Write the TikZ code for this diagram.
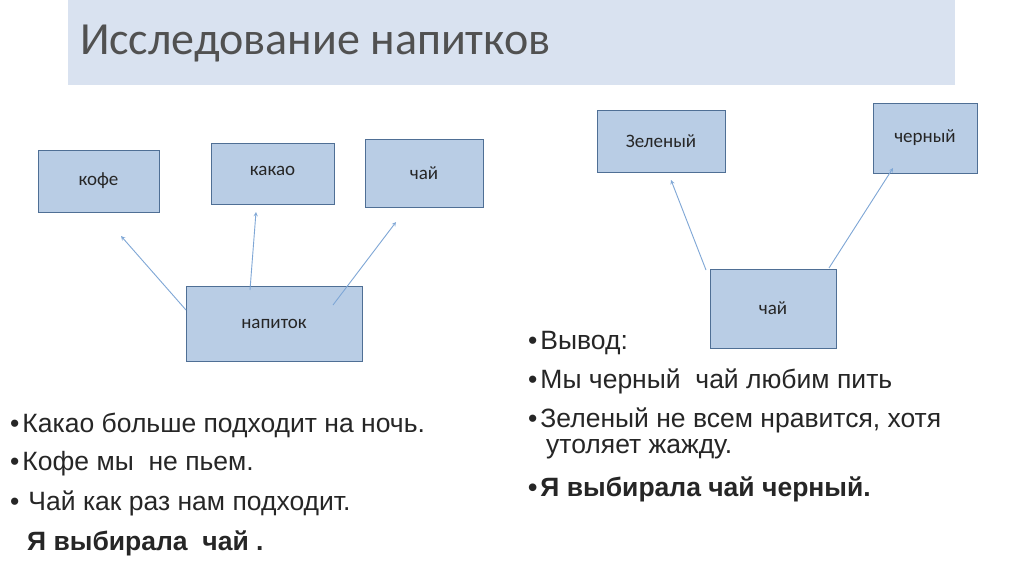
\documentclass[tikz,border=0pt]{standalone}
\usepackage{fontspec}
\setmainfont{Carlito}
\newfontfamily\bul{Liberation Sans}
\begin{document}
\begin{tikzpicture}[x=1pt,y=-1pt,
  box/.style={draw=boxline,fill=boxfill,line width=1pt,inner sep=0pt,font=\fontsize{19}{22}\selectfont,text=txt},
  arr/.style={draw=arrcol,line width=0.9pt,-stealth},
  btxt/.style={anchor=west,font=\bul\fontsize{26.5}{30}\selectfont,text=txt,inner sep=0pt}]
\definecolor{boxfill}{HTML}{B9CDE5}
\definecolor{boxline}{HTML}{4F6F95}
\definecolor{arrcol}{HTML}{7FA7D6}
\definecolor{banner}{HTML}{D9E2F0}
\definecolor{txt}{HTML}{262626}
\useasboundingbox (0,0) rectangle (1024,574);
\fill[white] (0,0) rectangle (1024,574);
\fill[banner] (68,0) rectangle (955,85);
\node[anchor=west,inner sep=0pt,text=txt!80,font=\fontsize{46}{50}\selectfont] (title) at (80,44) {Исследование напитков};
\node[box,minimum width=121pt,minimum height=62pt] (kofe) at (98.5,181) {кофе};
\node[box,minimum width=123pt,minimum height=61pt] (kakao) at (272.5,173.5) {\raisebox{6pt}{какао}};
\node[box,minimum width=118pt,minimum height=68pt] (chai) at (424,173) {чай};
\node[box,minimum width=176pt,minimum height=75pt] (nap) at (274,323.5) {\raisebox{-3pt}{напиток}};
\node[box,minimum width=128pt,minimum height=62pt] (zel) at (661,141) {Зеленый};
\node[box,minimum width=104pt,minimum height=70pt] (cher) at (925,138) {черный};
\node[box,minimum width=126pt,minimum height=79pt] (chai2) at (773,308.5) {чай};
\coordinate (a1s) at (186,310); \coordinate (a1e) at (121,236);
\coordinate (a2s) at (250,290); \coordinate (a2e) at (256,212);
\coordinate (a3s) at (333,305); \coordinate (a3e) at (396,222);
\coordinate (b1s) at (706,270); \coordinate (b1e) at (671,180);
\coordinate (b2s) at (829,268); \coordinate (b2e) at (893,168);
\draw[arr] (a1s) -- (a1e);
\draw[arr] (a2s) -- (a2e);
\draw[arr] (a3s) -- (a3e);
\draw[arr] (b1s) -- (b1e);
\draw[arr] (b2s) -- (b2e);
\node[btxt] (l1) at (10,425) {•\hspace{3pt}Какао больше подходит на ночь.};
\node[btxt] (l2) at (10,464) {•\hspace{3pt}Кофе мы\ \ не пьем.};
\node[btxt] (l3) at (10,503) {•\hspace{9pt}Чай как раз нам подходит.};
\node[btxt,font=\bul\bfseries\fontsize{26.5}{30}\selectfont] (l4) at (27,543) {Я выбирала\ \ чай .};
\node[btxt] (r1) at (528,343) {•\hspace{3pt}Вывод:};
\node[btxt] (r2) at (528,381) {•\hspace{3pt}Мы черный\ \ чай любим пить};
\node[btxt] (r3) at (528,420) {•\hspace{3pt}Зеленый не всем нравится, хотя};
\node[btxt] (r4) at (546,449) {утоляет жажду.};
\node[btxt,font=\bul\bfseries\fontsize{26.5}{30}\selectfont] (r5) at (528,489) {•\hspace{3pt}Я выбирала чай черный.};
\end{tikzpicture}
\end{document}
